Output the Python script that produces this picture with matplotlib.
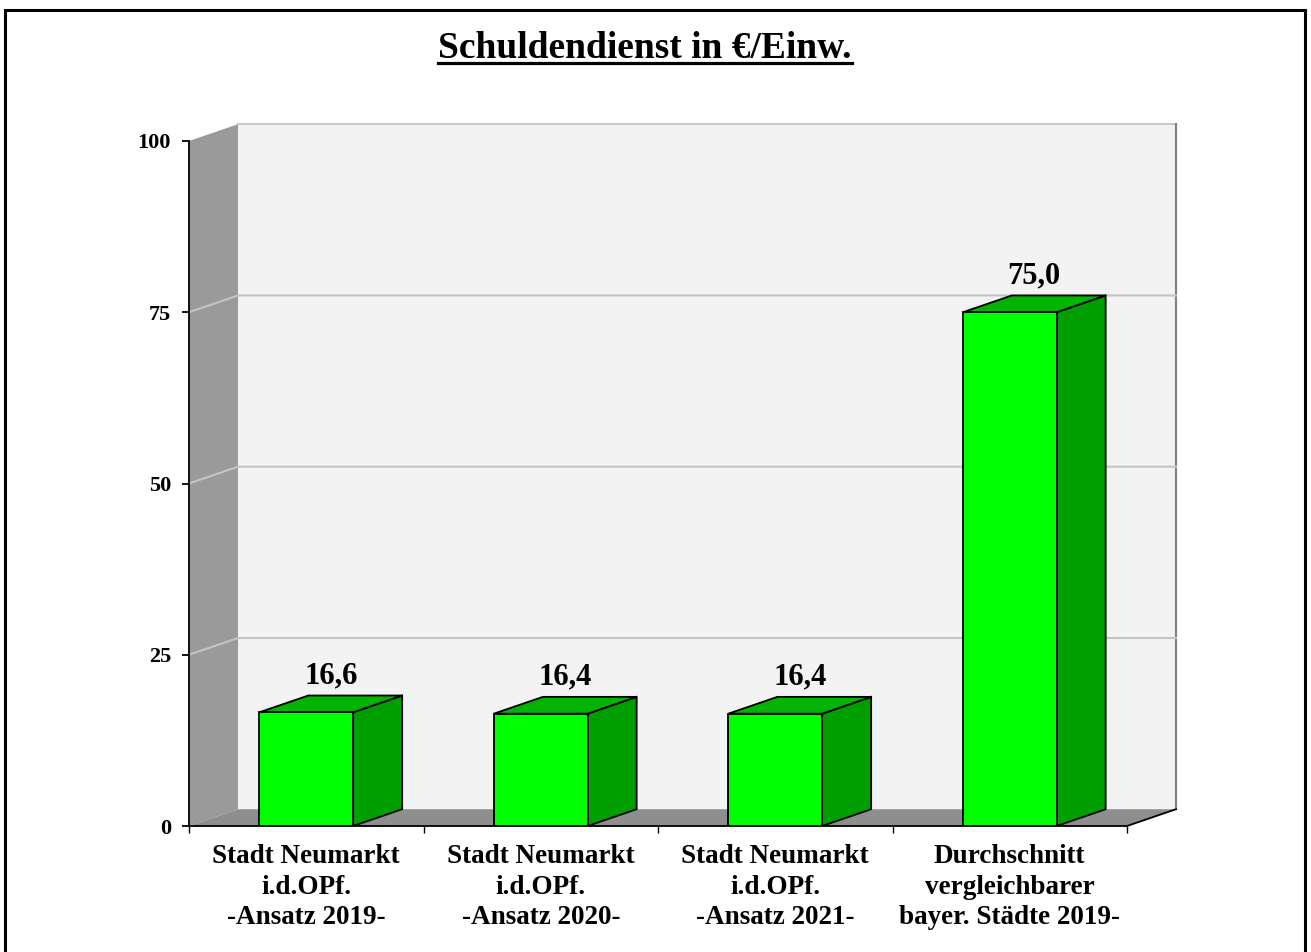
#!/usr/bin/env python3

import matplotlib
matplotlib.use('Agg')
import matplotlib.pyplot as plt
from matplotlib.patches import Polygon, Rectangle
from matplotlib.lines import Line2D

categories = ['Stadt Neumarkt\ni.d.OPf.\n-Ansatz 2019-',
              'Stadt Neumarkt\ni.d.OPf.\n-Ansatz 2020-',
              'Stadt Neumarkt\ni.d.OPf.\n-Ansatz 2021-',
              'Durchschnitt\nvergleichbarer\nbayer. Städte 2019-']
values = [16.6, 16.4, 16.4, 75.0]
value_labels = ['16,6', '16,4', '16,4', '75,0']
yticks = [0, 25, 50, 75, 100]
title = 'Schuldendienst in €/Einw.'

plt.rcParams['font.family'] = ['Liberation Serif', 'DejaVu Serif']
plt.rcParams['font.weight'] = 'bold'

# depth of the pseudo-3d box, in data units
DX = 0.209
DY = 2.45
BW = 0.40   # bar width

fig = plt.figure(figsize=(13.11, 9.52), dpi=100)
ax = fig.add_axes([189/1311, 126/952, 938/1311, 685/952])
ax.set_xlim(-0.5, 3.5)
ax.set_ylim(0, 100)
x0, x1 = -0.5, 3.5
ytop = yticks[-1]

# back wall
ax.add_patch(Polygon([(x0+DX, DY), (x1+DX, DY), (x1+DX, ytop+DY), (x0+DX, ytop+DY)],
                     closed=True, facecolor='#f3f3f3', edgecolor='none', zorder=0, clip_on=False))
ax.plot([x0+DX, x1+DX, x1+DX], [ytop+DY, ytop+DY, DY], color='#c8c8c8', lw=1.5,
        clip_on=False, zorder=1)
ax.plot([x1+DX, x1+DX], [DY, ytop+DY], color='#808080', lw=1.5, clip_on=False, zorder=1)
# side wall
ax.add_patch(Polygon([(x0, 0), (x0+DX, DY), (x0+DX, ytop+DY), (x0, ytop)],
                     closed=True, facecolor='#9a9a9a', edgecolor='none', zorder=1, clip_on=False))
# floor
ax.add_patch(Polygon([(x0, 0), (x0+DX, DY), (x1+DX, DY), (x1, 0)],
                     closed=True, facecolor='#8e8e8e', edgecolor='none', zorder=1, clip_on=False))
ax.plot([x1, x1+DX], [0, DY], color='black', lw=1.3, clip_on=False, zorder=2)

# grid lines on side and back wall
for v in yticks[1:-1]:
    ax.plot([x0, x0+DX, x1+DX], [v, v+DY, v+DY], color='#c4c4c4', lw=1.5,
            clip_on=False, zorder=1)

# bars
for i, v in enumerate(values):
    l, r = i - BW/2, i + BW/2
    ax.add_patch(Polygon([(r, 0), (r+DX, DY), (r+DX, v+DY), (r, v)], closed=True,
                         facecolor='#009f00', edgecolor='black', lw=1.3, zorder=3))
    ax.add_patch(Polygon([(l, v), (l+DX, v+DY), (r+DX, v+DY), (r, v)], closed=True,
                         facecolor='#00b400', edgecolor='black', lw=1.3, zorder=3))
    ax.add_patch(Rectangle((l, 0), BW, v, facecolor='#00ff00', edgecolor='black',
                           lw=1.3, zorder=4))
    ax.text(i + DX/2, v + DY + 1.8, value_labels[i], ha='center', va='baseline',
            fontsize=22, fontweight='bold', zorder=5)

for s in ['top', 'right']:
    ax.spines[s].set_visible(False)
ax.spines['left'].set_linewidth(1.3)
ax.spines['bottom'].set_linewidth(1.3)
ax.spines['left'].set_zorder(6)
ax.spines['bottom'].set_zorder(6)
ax.set_facecolor('none')

ax.set_yticks(yticks)
ax.set_yticklabels([str(t) for t in yticks], fontsize=16, fontweight='bold')
ax.tick_params(axis='y', length=5, width=1.3, pad=8)

ax.set_xticks(range(len(categories)))
ax.set_xticklabels(categories, fontsize=19.5, fontweight='bold', linespacing=1.3)
ax.set_xticks([x0 + k for k in range(len(categories) + 1)], minor=True)
ax.tick_params(axis='x', which='major', length=0, pad=13)
ax.tick_params(axis='x', which='minor', length=5, width=1.0)

t = fig.text(645/1311, 1 - 58/952, title, ha='center', va='baseline',
             fontsize=27, fontweight='bold')

# underline the title
fig.canvas.draw()
bb = t.get_window_extent(renderer=fig.canvas.get_renderer())
W, H = fig.bbox.width, fig.bbox.height
fig.add_artist(Line2D([bb.x0 / W, bb.x1 / W], [1 - 63/952, 1 - 63/952],
                      color='black', lw=2.3, transform=fig.transFigure))

# frame around the whole picture
fig.add_artist(Rectangle((5/1311, -0.02), 1300/1311, 1.02 - 10/952, fill=False,
                         edgecolor='black', lw=2.2, transform=fig.transFigure))

fig.savefig('out.png', dpi=100)
